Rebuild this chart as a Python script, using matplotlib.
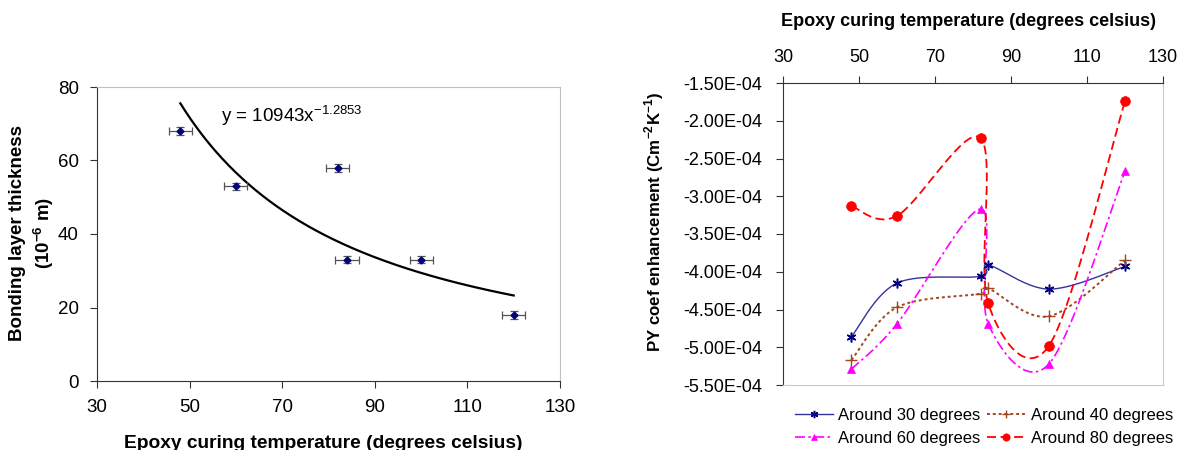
import numpy as np
import matplotlib
matplotlib.use("Agg")
import matplotlib.pyplot as plt
from matplotlib.lines import Line2D

plt.rcParams['font.family'] = ['Liberation Sans', 'DejaVu Sans']
plt.rcParams['mathtext.fontset'] = 'custom'
plt.rcParams['mathtext.rm'] = 'Liberation Sans'
plt.rcParams['mathtext.bf'] = 'Liberation Sans:bold'

# ---------------- data ----------------
temp_left = [48, 60, 82, 84, 100, 120]
thickness = [68, 53, 58, 33, 33, 18]
x_err = [2.5, 2.5, 2.5, 2.5, 2.5, 2.5]
y_err = [1, 1, 1, 1, 1, 1]
fit_a = 10943
fit_b = -1.2853

temp_right = [48, 60, 82, 84, 100, 120]
py30 = [-4.86e-4, -4.15e-4, -4.06e-4, -3.91e-4, -4.23e-4, -3.93e-4]
py40 = [-5.17e-4, -4.47e-4, -4.29e-4, -4.22e-4, -4.59e-4, -3.85e-4]
py60 = [-5.29e-4, -4.69e-4, -3.17e-4, -4.69e-4, -5.22e-4, -2.67e-4]
py80 = [-3.13e-4, -3.26e-4, -2.23e-4, -4.42e-4, -4.98e-4, -1.74e-4]
series_labels = ['Around 30 degrees', 'Around 40 degrees',
                 'Around 60 degrees', 'Around 80 degrees']

x_ticks = [30, 50, 70, 90, 110, 130]
left_yticks = [0, 20, 40, 60, 80]
right_yticks = [-5.5e-4, -5.0e-4, -4.5e-4, -4.0e-4, -3.5e-4, -3.0e-4,
                -2.5e-4, -2.0e-4, -1.5e-4]


def smooth(xs, ys, n=40):
    """Excel-like smoothed line: Catmull-Rom Bezier segments."""
    P = np.column_stack([xs, ys]).astype(float)
    out = []
    m = len(P)
    t = np.linspace(0, 1, n)[:, None]
    for i in range(m - 1):
        p0 = P[i - 1] if i > 0 else P[i]
        p1 = P[i]
        p2 = P[i + 1]
        p3 = P[i + 2] if i + 2 < m else P[i + 1]
        c1 = p1 + (p2 - p0) / 6.0
        c2 = p2 - (p3 - p1) / 6.0
        seg = ((1 - t) ** 3) * p1 + 3 * ((1 - t) ** 2) * t * c1 + \
            3 * (1 - t) * t ** 2 * c2 + t ** 3 * p2
        out.append(seg if i == 0 else seg[1:])
    arr = np.vstack(out)
    return arr[:, 0], arr[:, 1]


W, H = 1181, 450
fig = plt.figure(figsize=(W / 100, H / 100), dpi=100)

# ---------------- left chart ----------------
ax1 = fig.add_axes([97 / W, 1 - 381 / H, 463 / W, 294 / H])
ax1.errorbar(temp_left, thickness, xerr=x_err, yerr=y_err, fmt='D',
             color='#000080', markersize=3.5, ecolor='#555555',
             elinewidth=0.9, capsize=3, capthick=0.9, zorder=3)
xf = np.linspace(min(temp_left), max(temp_left), 200)
ax1.plot(xf, fit_a * xf ** fit_b, color='black', lw=1.6, zorder=2)
ax1.text(56.8, 70.6, r'y = 10943x$^{\mathrm{-1.2853}}$', fontsize=13.5,
         va='baseline')
ax1.set_xlim(30, 130)
ax1.set_ylim(0, 80)
ax1.set_xticks(x_ticks)
ax1.set_yticks(left_yticks)
ax1.tick_params(direction='out', length=5, labelsize=13.5, width=0.8,
                color='#333333', pad=8)
for s in ['top', 'right']:
    ax1.spines[s].set_color('#c0c0c0')
for s in ['left', 'bottom']:
    ax1.spines[s].set_color('#333333')
fig.text((124 + 522) / 2 / W, 1 - 443 / H,
         'Epoxy curing temperature (degrees celsius)', fontsize=13.8,
         fontweight='bold', ha='center', va='center')
fig.text(18 / W, 1 - 233 / H, 'Bonding layer thickness', fontsize=13.5,
         fontweight='bold', rotation=90, ha='center', va='center')
fig.text(44 / W, 1 - 233 / H, r'(10$^{\mathbf{-6}}$ m)', fontsize=13.5,
         fontweight='bold', rotation=90, ha='center', va='center')

# ---------------- right chart ----------------
ax2 = fig.add_axes([783 / W, 1 - 385 / H, 380 / W, 302 / H])
styles = [
    dict(color='#33339a', ls='-', lw=1.0, marker=(6, 2, 0), ms=7, mew=1.1, mc='#000080'),
    dict(color='#a0461e', ls=(0, (1.5, 1.5)), lw=1.4, marker='+', ms=8, mew=1.0, mc='#a0461e'),
    dict(color='#ff00ff', ls=(0, (6, 2, 1.5, 2)), lw=1.2, marker='^', ms=6, mew=0.5, mc='#ff00ff'),
    dict(color='#ff0000', ls=(0, (5, 2.5)), lw=1.3, marker='o', ms=7, mew=0.5, mc='#ff0000'),
]
handles = []
for ys, st, lab in zip([py30, py40, py60, py80], styles, series_labels):
    sx, sy = smooth(temp_right, ys)
    ax2.plot(sx, sy, color=st['color'], ls=st['ls'], lw=st['lw'], zorder=2)
    ax2.plot(temp_right, ys, ls='none', marker=st['marker'], ms=st['ms'],
             mew=st['mew'], color=st['mc'], mec=st['mc'], zorder=3)
    handles.append(Line2D([], [], color=st['color'], ls=st['ls'], lw=st['lw'],
                          marker=st['marker'], ms=st['ms'] * 0.75, mew=st['mew'],
                          mfc=st['mc'], mec=st['mc']))
ax2.set_xlim(30, 130)
ax2.set_ylim(-5.5e-4, -1.5e-4)
ax2.set_xticks(x_ticks)
ax2.set_yticks(right_yticks)
ax2.set_yticklabels(['%.2E' % v for v in right_yticks])
ax2.xaxis.tick_top()
ax2.tick_params(direction='out', length=5, labelsize=13, width=0.8,
                color='#333333')
ax2.tick_params(axis='y', pad=10)
ax2.tick_params(axis='x', pad=7)
for s in ['bottom', 'right']:
    ax2.spines[s].set_color('#c8c8c8')
for s in ['left', 'top']:
    ax2.spines[s].set_color('#333333')
fig.text((781 + 1156) / 2 / W, 1 - 21.7 / H,
         'Epoxy curing temperature (degrees celsius)', fontsize=13,
         fontweight='bold', ha='center', va='center')
fig.text(654 / W, 1 - 222 / H,
         r'PY coef enhancement (Cm$^{\mathbf{-2}}$K$^{\mathbf{-1}}$)',
         fontsize=12.2, fontweight='bold', rotation=90, ha='center',
         va='center')

# legend: row 1 -> 30, 40 ; row 2 -> 60, 80 (column-major fill)
order = [0, 2, 1, 3]
fig.legend(handles=[handles[i] for i in order],
           labels=[series_labels[i] for i in order], ncol=2,
           loc='center left', bbox_to_anchor=(795 / W, 1 - 427 / H),
           frameon=False, fontsize=12, handlelength=2.3,
           handletextpad=0.3, columnspacing=0.4, labelspacing=0.5,
           borderpad=0, borderaxespad=0)

fig.savefig('out.png', dpi=100)
